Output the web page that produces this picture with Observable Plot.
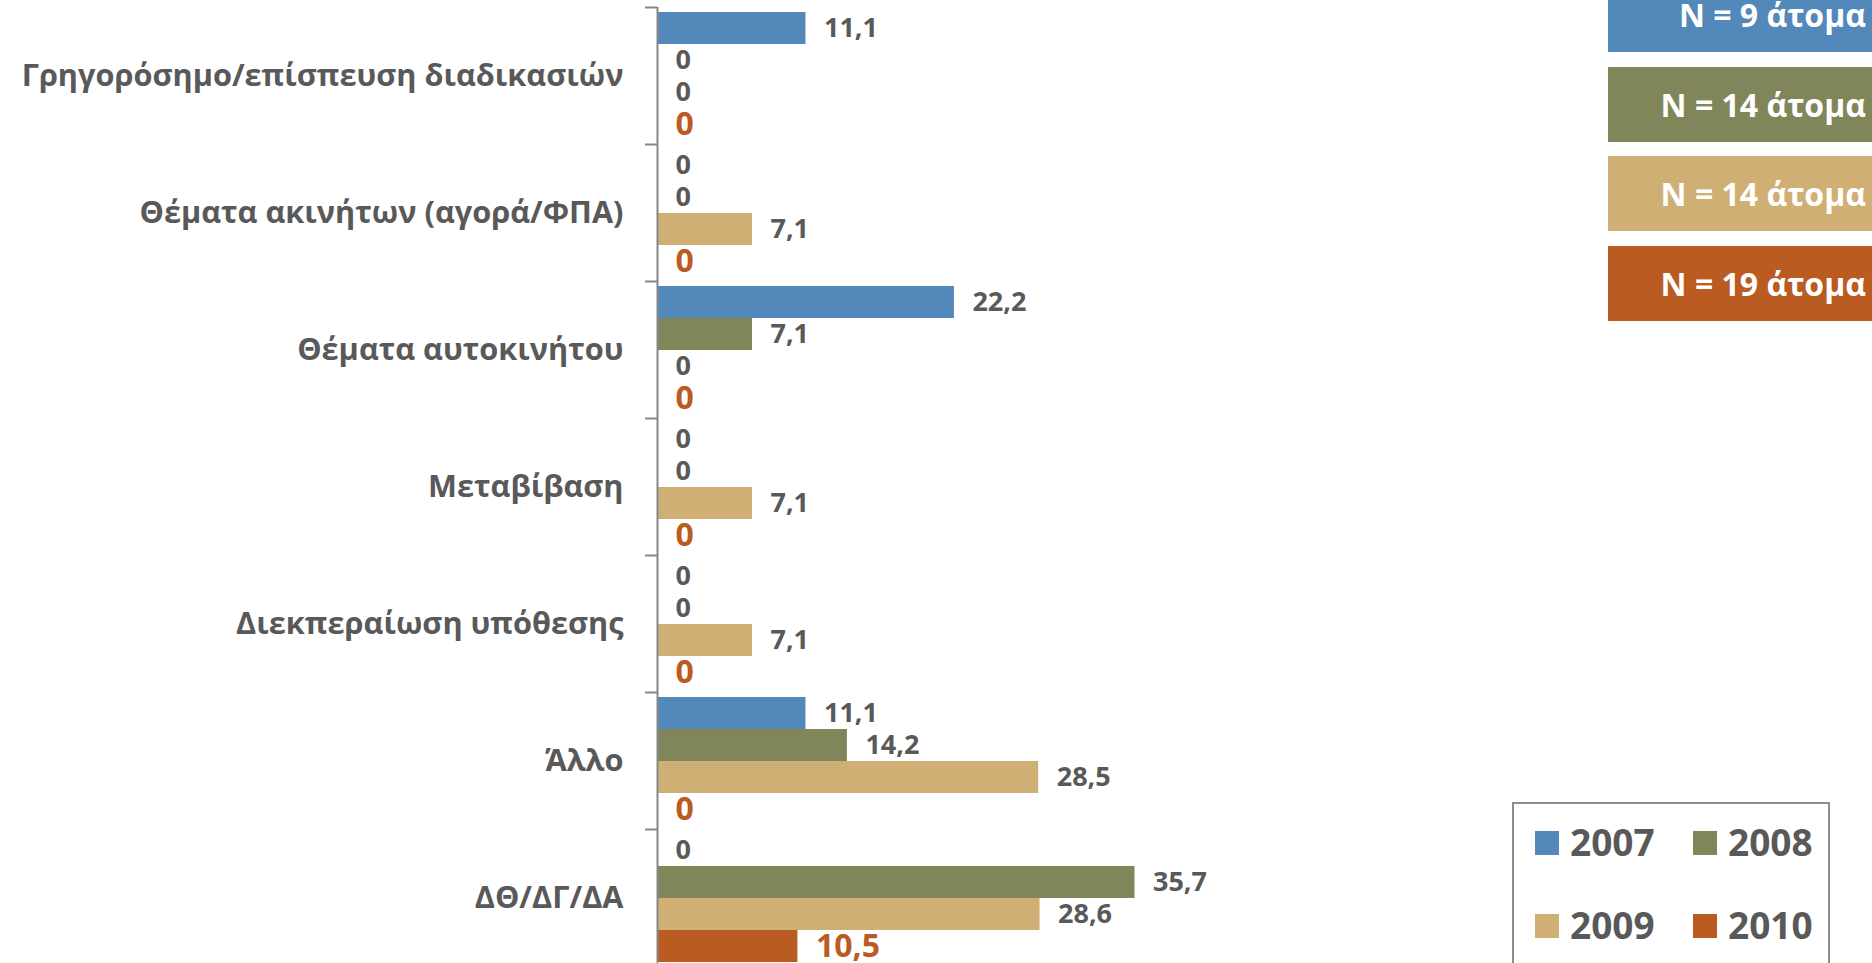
<!DOCTYPE html>
<html>
<head>
<meta charset="utf-8">
<script src="https://cdn.jsdelivr.net/npm/d3@7"></script>
<script src="https://cdn.jsdelivr.net/npm/@observablehq/plot@0.6"></script>
<style>
  html, body { margin: 0; padding: 0; background: #fff; overflow: hidden; }
  #wrap { position: relative; width: 1872px; height: 963px; overflow: hidden; font-family: "Open Sans", sans-serif; font-weight: bold; }
  #chart { position: absolute; left: 0; top: 0; }
  .nbox { position: absolute; left: 1608px; width: 300px; height: 75px; color: #fff; font-size: 32px; line-height: 75px; text-align: right; box-sizing: border-box; padding-right: 42px; }
  #legend { position: absolute; left: 1512px; top: 802px; width: 318px; height: 220px; border: 2px solid #8c8c8c; box-sizing: border-box; }
  .li { position: absolute; font-size: 37px; color: #595959; line-height: 37px; }
  .sw { position: absolute; width: 24px; height: 24px; }
</style>
</head>
<body>
<div id="wrap">
  <div id="chart"></div>
  <div id="nboxes"></div>
  <div id="legend"></div>
</div>
<script>
// ---- data ----
const categories = [
  "Γρηγορόσημο/επίσπευση διαδικασιών",
  "Θέματα ακινήτων (αγορά/ΦΠΑ)",
  "Θέματα αυτοκινήτου",
  "Μεταβίβαση",
  "Διεκπεραίωση υπόθεσης",
  "Άλλο",
  "ΔΘ/ΔΓ/ΔΑ"
];
const years = ["2007", "2008", "2009", "2010"];
const values2007 = [11.1, 0, 22.2, 0, 0, 11.1, 0];
const values2008 = [0, 0, 7.1, 0, 0, 14.2, 35.7];
const values2009 = [0, 7.1, 0, 7.1, 7.1, 28.5, 28.6];
const values2010 = [0, 0, 0, 0, 0, 0, 10.5];
const sampleLabels = ["N = 9 άτομα", "N = 14 άτομα", "N = 14 άτομα", "N = 19 άτομα"];
const colors = ["#5389BA", "#80865A", "#CFAF73", "#BA5B22"];

const seriesByYear = [values2007, values2008, values2009, values2010];
const data = [];
categories.forEach((c, i) => {
  years.forEach((y, j) => data.push({cat: c, year: y, value: seriesByYear[j][i]}));
});
const fmt = v => v === 0 ? "0" : v.toFixed(1).replace(".", ",");

const W = 1872, H = 966, MT = 7, MB = 0;
const bandH = (H - MT - MB) / categories.length;
const gray = "#595959";
const axisGray = "#868686";

const plot = Plot.plot({
  width: W,
  height: H,
  marginTop: MT,
  marginBottom: MB,
  marginLeft: 657,
  marginRight: 145,
  style: {fontFamily: "'Open Sans', sans-serif", fontWeight: "bold", background: "#fff"},
  x: {domain: [0, 80], axis: null},
  y: {domain: years, paddingInner: 0, paddingOuter: 0.14, axis: null},
  fy: {domain: categories, padding: 0},
  color: {domain: years, range: colors},
  marks: [
    Plot.barX(data, {fy: "cat", y: "year", x: "value", fill: "year"}),
    Plot.ruleX([0], {stroke: axisGray, strokeWidth: 2}),
    Plot.axisFy({anchor: "left", tickSize: 12, tickFormat: () => "", dy: -bandH / 2, stroke: axisGray, strokeWidth: 2, label: null}),
    Plot.axisFy({anchor: "left", tickSize: 0, tickPadding: 34, fontSize: 30.7, fill: gray, label: null}),
    Plot.text(data.filter(d => d.year !== "2010"), {fy: "cat", y: "year", x: "value", text: d => fmt(d.value), dx: 18, textAnchor: "start", fill: gray, fontSize: 27}),
    Plot.text(data.filter(d => d.year === "2010"), {fy: "cat", y: "year", x: "value", text: d => fmt(d.value), dx: 18, textAnchor: "start", fill: colors[3], fontSize: 32})
  ]
});
document.getElementById("chart").appendChild(plot);

// sample-size boxes (top right)
const nb = document.getElementById("nboxes");
sampleLabels.forEach((t, i) => {
  const d = document.createElement("div");
  d.className = "nbox";
  d.style.top = (-23 + i * 89.5) + "px";
  d.style.background = colors[i];
  d.textContent = t;
  nb.appendChild(d);
});

// legend (bottom right)
const lg = document.getElementById("legend");
years.forEach((y, i) => {
  const col = i % 2, row = Math.floor(i / 2);
  const sw = document.createElement("div");
  sw.className = "sw";
  sw.style.left = (21 + col * 158) + "px";
  sw.style.top = (27 + row * 83) + "px";
  sw.style.background = colors[i];
  lg.appendChild(sw);
  const t = document.createElement("div");
  t.className = "li";
  t.style.left = (56 + col * 158) + "px";
  t.style.top = (19 + row * 83) + "px";
  t.textContent = y;
  lg.appendChild(t);
});
</script>
</body>
</html>
